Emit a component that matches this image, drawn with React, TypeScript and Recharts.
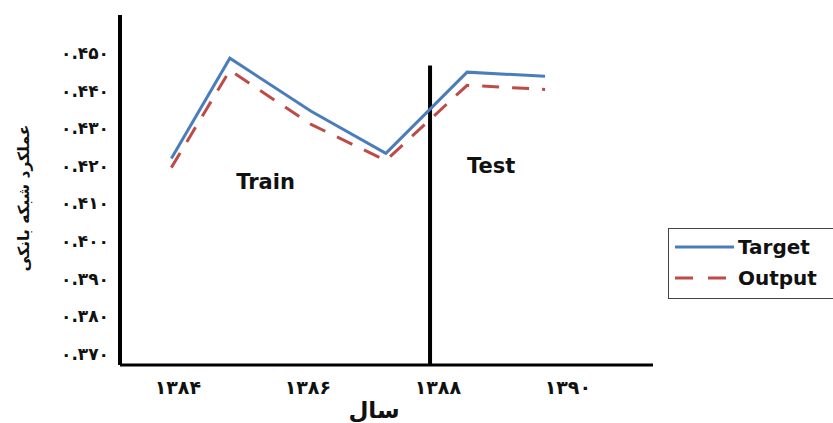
import React from 'react';
import {
  LineChart,
  Line,
  XAxis,
  YAxis,
  ReferenceLine,
  ReferenceDot,
} from 'recharts';

// x positions of the points on the year scale
const pointYears = [1383.9, 1384.8, 1386.05, 1387.2, 1388.45, 1389.65];
const targetValues = [0.4219, 0.4486, 0.4345, 0.4233, 0.4449, 0.4438];
const outputValues = [0.4195, 0.4454, 0.431, 0.4214, 0.4414, 0.4403];

const yearTicks = [1384, 1386, 1388, 1390];
const valueTicks = [0.37, 0.38, 0.39, 0.4, 0.41, 0.42, 0.43, 0.44, 0.45];

const splitYear = 1387.88;
const splitTop = 0.4467;

const data = pointYears.map((x, i) => ({
  x,
  target: targetValues[i],
  output: outputValues[i],
}));

const faDigits = ['۰', '۱', '۲', '۳', '۴', '۵', '۶', '۷', '۸', '۹'];
const toFa = (s: string) => s.replace(/[0-9]/g, (d) => faDigits[Number(d)]);

const BLUE = '#4a7ebb';
const RED = '#be4b48';
const FONT = '"DejaVu Sans", sans-serif';

const LegendBox = () => (
  <div
    style={{
      position: 'absolute',
      left: 668,
      top: 228,
      width: 180,
      height: 71,
      border: '1.5px solid #444',
      boxSizing: 'border-box',
      background: '#fff',
    }}
  >
    <svg width={180} height={71} style={{ position: 'absolute', left: 0, top: 0 }}>
      <line x1={6} x2={65} y1={18} y2={18} stroke={BLUE} strokeWidth={3} />
      <line x1={6} x2={65} y1={49} y2={49} stroke={RED} strokeWidth={3} strokeDasharray="18 15" />
      <text x={69} y={25} fontFamily={FONT} fontWeight="bold" fontSize={20} fill="#111">
        Target
      </text>
      <text x={69} y={56} fontFamily={FONT} fontWeight="bold" fontSize={20} fill="#111">
        Output
      </text>
    </svg>
  </div>
);

const YTitle = () => (
  <text
    x={24}
    y={198}
    transform="rotate(-90 24 198)"
    textAnchor="middle"
    dominantBaseline="central"
    fontFamily={FONT}
    fontWeight="bold"
    fontSize={15.5}
    fill="#111"
  >
    عملکرد شبکه بانکی
  </text>
);

const XTitle = () => (
  <text
    x={374}
    y={410}
    textAnchor="middle"
    dominantBaseline="central"
    fontFamily={FONT}
    fontWeight="bold"
    fontSize={23}
    fill="#111"
  >
    سال
  </text>
);

export default function App() {
  return (
    <div style={{ position: 'absolute', left: 0, top: 0, width: 833, height: 423, background: '#fff', overflow: 'hidden' }}>
      <LineChart
        width={833}
        height={423}
        data={data}
        margin={{ top: 15, right: 180, bottom: 28, left: 60 }}
      >
        <XAxis
          dataKey="x"
          type="number"
          domain={[1383.11, 1391.31]}
          ticks={yearTicks}
          allowDataOverflow
          height={30}
          axisLine={{ stroke: '#000', strokeWidth: 3 }}
          tickLine={false}
          tickMargin={10}
          tick={{ fontFamily: FONT, fontWeight: 'bold', fontSize: 19, fill: '#111' }}
          tickFormatter={(v: number) => toFa(String(v))}
          label={<XTitle />}
        />
        <YAxis
          type="number"
          domain={[0.367, 0.4601]}
          ticks={valueTicks}
          allowDataOverflow
          width={60}
          axisLine={{ stroke: '#000', strokeWidth: 4 }}
          tickLine={false}
          tickMargin={5}
          tick={{ fontFamily: FONT, fontWeight: 'bold', fontSize: 17, fill: '#111' }}
          tickFormatter={(v: number) => toFa(v.toFixed(3))}
          label={<YTitle />}
        />
        <ReferenceLine
          segment={[
            { x: splitYear, y: 0.367 },
            { x: splitYear, y: splitTop },
          ]}
          stroke="#000"
          strokeWidth={4}
        />
        <ReferenceDot
          x={1385.35}
          y={0.4159}
          r={0}
          fill="none"
          stroke="none"
          label={{ value: 'Train', position: 'center', style: { fontFamily: FONT, fontWeight: 'bold', fontSize: 21, fill: '#111' } }}
        />
        <ReferenceDot
          x={1388.82}
          y={0.42}
          r={0}
          fill="none"
          stroke="none"
          label={{ value: 'Test', position: 'center', style: { fontFamily: FONT, fontWeight: 'bold', fontSize: 21, fill: '#111' } }}
        />
        <Line
          dataKey="target"
          stroke={BLUE}
          strokeWidth={3}
          dot={false}
          isAnimationActive={false}
          name="Target"
        />
        <Line
          dataKey="output"
          stroke={RED}
          strokeWidth={3}
          strokeDasharray="17 13"
          dot={false}
          isAnimationActive={false}
          name="Output"
        />
      </LineChart>
      <LegendBox />
    </div>
  );
}
